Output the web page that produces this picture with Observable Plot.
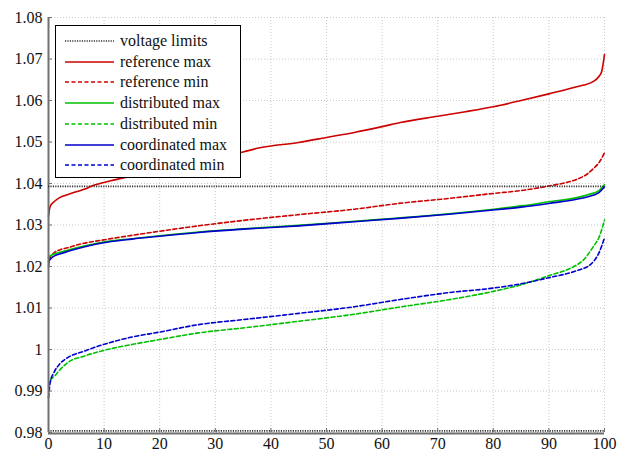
<!DOCTYPE html>
<html><head><meta charset="utf-8">
<script src="https://cdn.jsdelivr.net/npm/d3@7"></script>
<script src="https://cdn.jsdelivr.net/npm/@observablehq/plot@0.6"></script>
<style>
body{margin:0;background:#fff;}
#wrap{position:relative;width:625px;height:458px;font-family:"Liberation Serif","Times New Roman",serif;}
#wrap svg text{font-family:"Liberation Serif","Times New Roman",serif;}
#legend{position:absolute;left:55px;top:25px;width:184px;height:151px;border:1.5px solid #000;background:#fff;box-sizing:content-box;}
.row{position:absolute;left:0;height:20px;display:flex;align-items:center;font-size:16px;color:#111;}
.row svg{margin-left:9px;margin-right:6px;}
</style></head>
<body><div id="wrap"></div>
<script>
const xTicks = [0,10,20,30,40,50,60,70,80,90,100];
const yTicks = [0.98,0.99,1.00,1.01,1.02,1.03,1.04,1.05,1.06,1.07,1.08];
const limits = [0.9804, 1.0393];

const refMaxX = [0,0.3,1,2,3.4,5,6.4,8,11,15,20,25,30,35,38,45,50,55,60,63.3,70,75,80,85,90,95,98,99,99.5,100];
const refMaxY = [1.0321,1.0345,1.0356,1.0366,1.0373,1.0380,1.0386,1.0395,1.0406,1.0418,1.0433,1.0448,1.0462,1.0476,1.0486,1.0499,1.0511,1.0523,1.0537,1.0547,1.0562,1.0573,1.0585,1.0600,1.0616,1.0633,1.0646,1.0658,1.0670,1.0711];

const refMinX = [0,0.3,1,2,3.4,6,9.4,15,20,27,35,45,55,63,72,80,85,90,93,95,97,98,99,100];
const refMinY = [1.0201,1.0222,1.0233,1.0240,1.0245,1.0255,1.0263,1.0275,1.0285,1.0298,1.0311,1.0325,1.0338,1.0352,1.0364,1.0376,1.0383,1.0394,1.0402,1.0410,1.0424,1.0436,1.0450,1.0474];

const maxX = [0,0.5,1,2,3.4,6,9.4,15,20,27,35,45,55,63,72,80,85,90,95,97,99,100];
const coordMaxY = [1.0212,1.0220,1.0225,1.0230,1.0236,1.0246,1.0256,1.0266,1.0273,1.0282,1.0290,1.0298,1.0308,1.0316,1.0326,1.0336,1.0343,1.0352,1.0362,1.0368,1.0378,1.0392];
const distMaxY = [1.0222,1.0227,1.0230,1.0234,1.0239,1.0248,1.0258,1.0267,1.0274,1.0283,1.0291,1.0299,1.0309,1.0317,1.0327,1.0338,1.0346,1.0356,1.0366,1.0373,1.0383,1.0397];

const distMinX = [0,0.3,1.1,2,3.4,6.4,9.4,15,20,27,35,45,55,63,72,80,85,90,94.5,96,98,99,100];
const distMinY = [0.9912,0.9925,0.9936,0.9950,0.9968,0.9984,0.9996,1.0012,1.0024,1.0040,1.0052,1.0068,1.0085,1.0102,1.0120,1.0140,1.0156,1.0178,1.0200,1.0213,1.0248,1.0270,1.0312];

const coordMinX = [0,0.3,1,2,3.4,6.4,9.4,15,20,27,35,45,55,63,72,80,84,90,95,97.5,99,100];
const coordMinY = [0.9884,0.9920,0.9945,0.9965,0.9980,0.9996,1.0010,1.0030,1.0042,1.0060,1.0072,1.0087,1.0103,1.0120,1.0137,1.0148,1.0156,1.0173,1.0190,1.0205,1.0233,1.0269];

const RED = "#cc0000", GREEN = "#00c000", BLUE = "#0000cc";
const series = [
  {name:"reference max", xs:refMaxX, ys:refMaxY, color:RED, dash:null},
  {name:"reference min", xs:refMinX, ys:refMinY, color:RED, dash:"4,2.5"},
  {name:"distributed max", xs:maxX, ys:distMaxY, color:GREEN, dash:null},
  {name:"distributed min", xs:distMinX, ys:distMinY, color:GREEN, dash:"4,2.5"},
  {name:"coordinated max", xs:maxX, ys:coordMaxY, color:BLUE, dash:null},
  {name:"coordinated min", xs:coordMinX, ys:coordMinY, color:BLUE, dash:"4,2.5"}
];
const toRows = s => s.xs.map((x,i)=>({x, y:s.ys[i]}));

const fmt = d => String(+d.toFixed(2));

const marks = [
  Plot.gridX(xTicks, {stroke:"#c8c8c8", strokeOpacity:1, strokeDasharray:"1,2"}),
  Plot.gridY(yTicks, {stroke:"#c8c8c8", strokeOpacity:1, strokeDasharray:"1,2"}),
];
for (const s of series) {
  marks.push(Plot.line(toRows(s), {x:"x", y:"y", stroke:s.color, strokeWidth:1.6, strokeDasharray:s.dash || undefined, curve:"monotone-x"}));
}
marks.push(
  Plot.ruleX([0], {stroke:"#707070", strokeWidth:2}),
  Plot.ruleY([0.98], {stroke:"#707070", strokeWidth:2, dy:1}),
  Plot.ruleY(limits, {stroke:"#333", strokeWidth:1.6, strokeDasharray:"1.2,1.2"}),
  Plot.axisX(xTicks, {text:null, tickSize:4, dy:-4, stroke:"#707070"}),
  Plot.axisY(yTicks, {text:null, tickSize:4, dx:4, stroke:"#707070"}),
  Plot.axisX(xTicks, {tickSize:0, tickPadding:5, tickFormat:d=>String(d), fill:"#111", label:null}),
  Plot.axisY(yTicks, {tickSize:0, tickPadding:6, tickFormat:fmt, fill:"#111", label:null})
);

const chart = Plot.plot({
  width:625, height:458,
  marginLeft:48, marginRight:21, marginTop:17, marginBottom:26,
  x:{domain:[0,100], label:null},
  y:{domain:[0.98,1.08], label:null},
  style:{fontFamily:"'Liberation Serif', 'Times New Roman', serif", fontSize:"16px", background:"#fff", overflow:"visible"},
  marks
});
const wrap = document.getElementById("wrap");
wrap.appendChild(chart);

// legend
const legendItems = [{name:"voltage limits", color:"#333", dash:"1.2,1.2"}, ...series];
const lg = document.createElement("div");
lg.id = "legend";
legendItems.forEach((it,i)=>{
  const r = document.createElement("div");
  r.className = "row";
  r.style.top = (5 + i*20.7) + "px";
  r.innerHTML = `<svg width="49" height="10"><line x1="0" x2="49" y1="5" y2="5" stroke="${it.color}" stroke-width="1.6" ${it.dash?`stroke-dasharray="${it.dash}"`:""}/></svg><span>${it.name}</span>`;
  lg.appendChild(r);
});
wrap.appendChild(lg);
</script></body></html>
